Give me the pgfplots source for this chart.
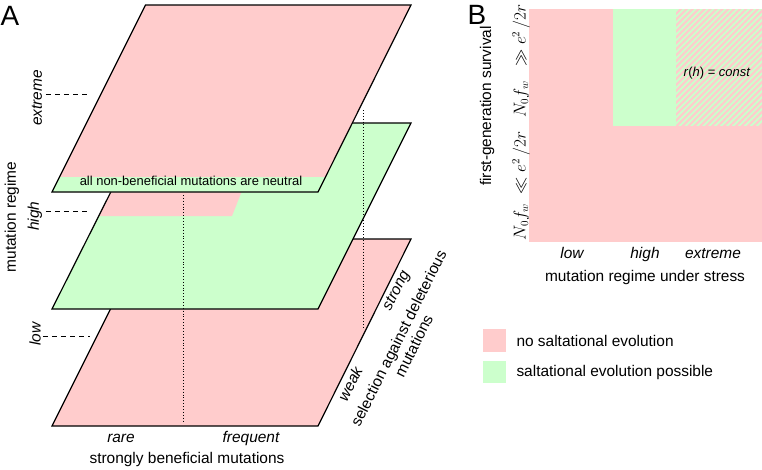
\documentclass[border=0pt]{standalone}
\usepackage{pgfplots}
\pgfplotsset{compat=1.18}
\usepackage{fontspec}
\setmainfont{Liberation Sans}
\usetikzlibrary{patterns.meta}
\definecolor{pinkc}{HTML}{FFCCCC}
\definecolor{greenc}{HTML}{CCFFCC}
\newcommand\fs{\fontsize{15.5}{18}\selectfont}
\newcommand\fsi{\fontsize{15.5}{18}\selectfont\itshape}
\newcommand\fsm{\fontsize{16.3}{19}\selectfont}
\begin{document}
\begin{tikzpicture}
\begin{axis}[scale only axis, width=762bp, height=470bp,
  xmin=0, xmax=762, ymin=0, ymax=470, y dir=reverse,
  hide axis, clip=false]
% ---- panel A: bottom plane (low)
\addplot[fill=pinkc, draw=black, line width=1.2bp] coordinates {(52,426) (318,426) (411,239) (145.5,239)} -- cycle;
% ---- middle plane (high)
\addplot[fill=greenc, draw=none] coordinates {(52,309) (318,309) (411,123) (145.5,123)} -- cycle;
\addplot[fill=pinkc, draw=none] coordinates {(145.5,123) (268.8,123) (232,216) (98.5,216)} -- cycle;
\addplot[draw=black, line width=1.2bp] coordinates {(52,309) (318,309) (411,123) (145.5,123)} -- cycle;
% ---- top plane (extreme)
\addplot[fill=pinkc, draw=none] coordinates {(52,192) (318,192) (411,5) (145.5,5)} -- cycle;
\addplot[fill=greenc, draw=none] coordinates {(52,192) (318,192) (325.5,177) (59.5,177)} -- cycle;
\addplot[draw=black, line width=1.2bp] coordinates {(52,192) (318,192) (411,5) (145.5,5)} -- cycle;
% dotted verticals
\addplot[black, dotted, line width=0.9bp] coordinates {(183,195) (183,422)};
\addplot[black, dotted, line width=0.9bp] coordinates {(363,110) (363,328)};
% dashed level ticks
\addplot[black, dash pattern=on 5bp off 4bp, line width=0.9bp] coordinates {(46,94) (90,94)};
\addplot[black, dash pattern=on 5bp off 4bp, line width=0.9bp] coordinates {(46,211) (90,211)};
\addplot[black, dash pattern=on 5bp off 4bp, line width=0.9bp] coordinates {(43,336) (90,336)};
% panel A text
\node[font=\fontsize{28}{30}\selectfont] at (axis cs:10,16) {A};
\node[rotate=90, font=\fs] at (axis cs:12,217) {mutation regime};
\node[rotate=90, font=\fsi] at (axis cs:37,98) {extreme};
\node[rotate=90, font=\fsi] at (axis cs:35,216) {high};
\node[rotate=90, font=\fsi] at (axis cs:35,334) {low};
\node[anchor=base, font=\fontsize{13}{15}\selectfont] at (axis cs:191,185.5) {all non-beneficial mutations are neutral};
\node[anchor=base, font=\fsi] at (axis cs:121,442) {rare};
\node[anchor=base, font=\fsi] at (axis cs:251,442) {frequent};
\node[anchor=base, font=\fs] at (axis cs:187,463) {strongly beneficial mutations};
\node[rotate=63.4, font=\fsi, inner sep=0pt] at (axis cs:350,384) {weak};
\node[rotate=63.4, font=\fsi, inner sep=0pt] at (axis cs:397,291) {strong};
\node[rotate=63.4, align=center, inner sep=0pt, font=\fontsize{15.5}{17}\selectfont] at (axis cs:406,342) {selection against deleterious\\mutations};
% ---- panel B
\addplot[fill=pinkc, draw=none] coordinates {(529,9) (762,9) (762,242) (529,242)} -- cycle;
\addplot[fill=greenc, draw=none] coordinates {(613,9) (676,9) (676,126) (613,126)} -- cycle;
\addplot[fill=greenc, draw=none] coordinates {(676,9) (762,9) (762,126) (676,126)} -- cycle;
\addplot[draw=none, pattern={Lines[angle=45,distance=4.2bp,line width=2.1bp]}, pattern color=pinkc] coordinates {(676,9) (762,9) (762,126) (676,126)} -- cycle;
\node[font=\fontsize{28}{30}\selectfont] at (axis cs:477,15) {B};
\node[font=\fontsize{13}{15}\selectfont] at (axis cs:717,73) {\textit{r}(\textit{h}) = \textit{const}};
\node[anchor=base, font=\fsi] at (axis cs:572,258) {low};
\node[anchor=base, font=\fsi] at (axis cs:645,258) {high};
\node[anchor=base, font=\fsi] at (axis cs:713,258) {extreme};
\node[anchor=base, font=\fs] at (axis cs:645,281) {mutation regime under stress};
\node[rotate=90, font=\fs] at (axis cs:487,106) {first-generation survival};
\node[rotate=90, font=\fsm] at (axis cs:521,61) {$N_0 f_w\;\;\gg e^2\,/2r$};
\node[rotate=90, font=\fsm] at (axis cs:521,186) {$N_0 f_w\;\ll e^2\,/2r$};
% legend
\addplot[fill=pinkc, draw=none] coordinates {(483,329) (506,329) (506,352) (483,352)} -- cycle;
\addplot[fill=greenc, draw=none] coordinates {(483,361) (506,361) (506,383) (483,383)} -- cycle;
\node[anchor=base west, font=\fs] at (axis cs:513,346) {no saltational evolution};
\node[anchor=base west, font=\fs] at (axis cs:513,376) {saltational evolution possible};
\end{axis}
\pgfresetboundingbox
\path[use as bounding box] (0,0) rectangle (762bp,470bp);
\end{tikzpicture}
\end{document}
